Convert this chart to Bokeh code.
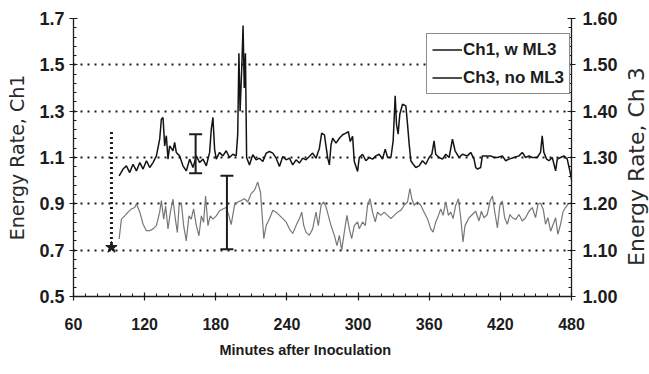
import math
from bokeh.plotting import figure
from bokeh.layouts import row
from bokeh.models import (Range1d, LinearAxis, FixedTicker, PrintfTickFormatter,
                          Legend, LegendItem, Title)
from bokeh.core.properties import value
from bokeh.embed import file_html
from bokeh.resources import INLINE

# ---------------- data ----------------
x_ticks = [60, 120, 180, 240, 300, 360, 420, 480]
y_left_ticks = [0.5, 0.7, 0.9, 1.1, 1.3, 1.5, 1.7]
y_right_ticks = [1.0, 1.1, 1.2, 1.3, 1.4, 1.5, 1.6]

ch1_min = [98.5, 101.8, 104.6, 107.4, 110.2, 113.1, 115.9, 118.7, 121.5, 124.3,
           127.1, 129.9, 132.7, 134.1, 135.5, 136.9, 138.3, 139.7, 141.1, 143.9,
           145.3, 146.7, 149.5, 152.3, 155.1, 158.0, 160.8, 163.6, 166.4, 169.2,
           172.0, 174.8, 176.2, 177.6, 179.0, 180.4, 183.2, 186.0, 188.8, 191.6,
           194.4, 197.2, 198.5, 199.5, 200.5, 202.0, 203.0, 204.0, 205.0, 206.0,
           208.4, 211.2, 214.0, 216.8, 219.7, 222.5, 225.3, 228.1, 230.9, 233.7,
           236.5, 239.3, 242.1, 244.9, 247.7, 250.5, 253.3, 256.1, 258.9, 261.7,
           264.5, 267.4, 269.3, 271.6, 274.4, 275.8, 277.2, 278.6, 281.4, 284.2,
           287.0, 289.8, 291.8, 293.4, 295.4, 296.8, 299.6, 301.0, 303.8, 306.6,
           309.4, 312.2, 315.0, 317.8, 320.6, 322.9, 324.9, 327.7, 329.6, 331.3,
           332.4, 333.8, 335.2, 337.5, 340.3, 341.7, 343.1, 344.5, 346.5, 348.7,
           351.5, 354.3, 357.1, 359.9, 362.2, 364.1, 365.5, 368.3, 371.2, 374.0,
           376.8, 379.6, 381.8, 385.2, 388.0, 392.2, 395.0, 397.8, 399.2, 400.6,
           403.4, 404.8, 407.6, 411.9, 414.7, 417.5, 421.7, 424.5, 427.3, 431.5,
           435.7, 438.5, 441.3, 444.1, 446.9, 451.1, 453.9, 455.3, 456.7, 459.0,
           461.0, 463.8, 466.6, 468.0, 470.8, 473.6, 476.4, 478.6, 480.0]
ch1_val = [1.021, 1.050, 1.064, 1.035, 1.071, 1.042, 1.078, 1.050, 1.086, 1.057,
           1.078, 1.107, 1.179, 1.265, 1.273, 1.150, 1.194, 1.093, 1.150, 1.129,
           1.165, 1.122, 1.107, 1.064, 1.042, 1.093, 1.057, 1.107, 1.078, 1.093,
           1.064, 1.122, 1.222, 1.273, 1.136, 1.093, 1.122, 1.107, 1.129, 1.100,
           1.114, 1.107, 1.200, 1.550, 1.300, 1.500, 1.670, 1.400, 1.550, 1.100,
           1.068, 1.112, 1.090, 1.097, 1.083, 1.119, 1.126, 1.119, 1.097, 1.061,
           1.104, 1.090, 1.097, 1.068, 1.090, 1.076, 1.097, 1.090, 1.104, 1.119,
           1.097, 1.140, 1.205, 1.198, 1.097, 1.068, 1.155, 1.183, 1.162, 1.183,
           1.198, 1.205, 1.212, 1.169, 1.191, 1.083, 1.040, 1.100, 1.114, 1.086,
           1.100, 1.093, 1.107, 1.114, 1.093, 1.136, 1.100, 1.100, 1.172, 1.366,
           1.244, 1.201, 1.287, 1.330, 1.323, 1.244, 1.158, 1.086, 1.071, 1.057,
           1.064, 1.086, 1.071, 1.100, 1.114, 1.172, 1.114, 1.100, 1.093, 1.114,
           1.100, 1.179, 1.129, 1.100, 1.114, 1.107, 1.122, 1.093, 1.057, 1.050,
           1.057, 1.107, 1.107, 1.107, 1.100, 1.100, 1.107, 1.086, 1.093, 1.100,
           1.107, 1.122, 1.100, 1.107, 1.100, 1.100, 1.122, 1.194, 1.122, 1.093,
           1.086, 1.100, 1.042, 1.093, 1.100, 1.107, 1.093, 1.042, 1.006]

ch3_min = [98.5, 100.4, 103.2, 106.0, 108.8, 111.6, 113.1, 115.9, 118.7, 121.5,
           124.3, 127.1, 129.9, 132.7, 134.1, 136.1, 137.7, 139.7, 141.7, 143.9,
           145.9, 147.6, 149.0, 150.9, 152.9, 155.1, 157.4, 159.3, 161.3, 163.6,
           165.8, 167.8, 169.7, 171.4, 173.4, 175.3, 177.6, 180.4, 183.2, 186.0,
           188.8, 191.0, 193.0, 195.8, 198.6, 201.4, 204.2, 207.0, 209.8, 212.6,
           215.4, 217.7, 219.1, 220.5, 222.5, 225.3, 228.1, 230.9, 233.7, 236.5,
           239.3, 242.1, 244.9, 247.7, 250.5, 252.5, 254.2, 256.1, 258.9, 261.7,
           264.5, 266.5, 268.8, 271.0, 273.0, 274.9, 277.2, 280.0, 282.2, 284.2,
           286.2, 288.4, 290.6, 292.6, 294.6, 296.8, 299.6, 301.0, 303.8, 306.1,
           308.0, 310.0, 312.2, 314.5, 316.4, 319.2, 322.0, 324.9, 327.7, 330.5,
           333.3, 336.1, 338.9, 341.7, 343.7, 345.3, 347.3, 350.1, 352.9, 355.7,
           358.5, 361.3, 363.3, 365.5, 367.8, 369.7, 371.7, 374.0, 376.2, 378.2,
           380.1, 382.4, 384.6, 386.6, 388.5, 390.2, 393.6, 396.4, 399.2, 402.0,
           404.0, 406.2, 409.0, 411.3, 413.3, 415.2, 417.5, 419.7, 421.7, 423.6,
           425.9, 428.1, 430.1, 432.9, 435.7, 438.5, 441.3, 444.1, 446.9, 449.7,
           451.7, 453.9, 456.2, 458.1, 460.1, 462.4, 464.6, 466.6, 468.5, 470.8,
           473.0, 475.0, 476.9, 479.2]
ch3_val = [1.124, 1.167, 1.174, 1.182, 1.189, 1.192, 1.200, 1.182, 1.156, 1.142,
           1.142, 1.146, 1.153, 1.182, 1.207, 1.167, 1.195, 1.146, 1.182, 1.210,
           1.167, 1.138, 1.195, 1.203, 1.153, 1.120, 1.174, 1.167, 1.189, 1.153,
           1.131, 1.174, 1.160, 1.217, 1.153, 1.174, 1.167, 1.174, 1.185, 1.189,
           1.192, 1.175, 1.155, 1.197, 1.204, 1.207, 1.211, 1.204, 1.222, 1.229,
           1.247, 1.225, 1.175, 1.125, 1.153, 1.168, 1.186, 1.182, 1.175, 1.168,
           1.161, 1.146, 1.136, 1.153, 1.168, 1.182, 1.153, 1.139, 1.132, 1.146,
           1.182, 1.153, 1.197, 1.204, 1.193, 1.175, 1.153, 1.132, 1.110, 1.132,
           1.100, 1.139, 1.175, 1.146, 1.125, 1.153, 1.161, 1.146, 1.161, 1.153,
           1.197, 1.211, 1.182, 1.161, 1.182, 1.175, 1.182, 1.175, 1.168, 1.175,
           1.182, 1.186, 1.197, 1.204, 1.233, 1.211, 1.197, 1.204, 1.197, 1.182,
           1.168, 1.146, 1.139, 1.161, 1.175, 1.189, 1.175, 1.204, 1.175, 1.182,
           1.168, 1.197, 1.211, 1.170, 1.118, 1.153, 1.170, 1.177, 1.184, 1.163,
           1.184, 1.170, 1.177, 1.206, 1.217, 1.184, 1.148, 1.199, 1.206, 1.170,
           1.156, 1.177, 1.170, 1.166, 1.177, 1.163, 1.170, 1.184, 1.192, 1.170,
           1.199, 1.202, 1.188, 1.156, 1.170, 1.141, 1.156, 1.170, 1.134, 1.156,
           1.184, 1.192, 1.199, 1.202]

# error bars (left axis units)
bar_x = [163.0, 189.4]
bar_lo = [1.032, 0.704]
bar_hi = [1.200, 1.021]

# dotted arrow at start of record
arrow_x = [92.0, 92.0]
arrow_y = [1.21, 0.73]
arrow_tip_y = [0.712]

legend_labels = ["Ch1, w ML3", "Ch3, no ML3"]
right_title = ["Energy Rate, Ch 3"]

# ---------------- figure ----------------
INK = "#1c1c1c"
p = figure(width=620, height=368, output_backend="svg", toolbar_location=None,
           x_range=Range1d(60, 480), y_range=Range1d(0.5, 1.7),
           min_border_left=73, min_border_right=48, min_border_top=18,
           min_border_bottom=72)
p.extra_y_ranges = {"ch3": Range1d(1.0, 1.6)}
p.outline_line_color = None
p.background_fill_color = "white"
p.border_fill_color = "white"

minor_x = list(range(60, 481, 10))
minor_yl = [round(0.5 + 0.04 * i, 2) for i in range(31)]
minor_yr = [round(1.0 + 0.02 * i, 2) for i in range(31)]


def style_axis(ax, size):
    ax.axis_line_color = INK
    ax.axis_line_width = 1.3
    ax.major_tick_line_color = INK
    ax.minor_tick_line_color = INK
    ax.major_tick_line_width = 1.2
    ax.minor_tick_line_width = 1.0
    ax.major_tick_in = 4
    ax.major_tick_out = 4
    ax.minor_tick_in = 3
    ax.minor_tick_out = 0
    ax.major_label_text_font = "Liberation Sans"
    ax.major_label_text_font_style = "bold"
    ax.major_label_text_font_size = size
    ax.major_label_text_color = INK
    ax.axis_label_text_font = "DejaVu Sans"
    ax.axis_label_text_font_style = "normal"
    ax.axis_label_text_color = "#2a2a2a"


p.xaxis.ticker = FixedTicker(ticks=x_ticks, minor_ticks=minor_x)
style_axis(p.xaxis[0], "16px")
p.xaxis.major_label_standoff = 17

p.yaxis.ticker = FixedTicker(ticks=y_left_ticks, minor_ticks=minor_yl)
p.yaxis.formatter = PrintfTickFormatter(format="%.1f")
style_axis(p.yaxis[0], "18px")
p.yaxis.major_label_standoff = 5
p.yaxis.axis_label = "Energy Rate, Ch1"
p.yaxis.axis_label_text_font_size = "19px"
p.yaxis.axis_label_standoff = 8

rax = LinearAxis(y_range_name="ch3",
                 ticker=FixedTicker(ticks=y_right_ticks, minor_ticks=minor_yr),
                 formatter=PrintfTickFormatter(format="%.2f"))
style_axis(rax, "18px")
rax.major_label_standoff = 7
p.add_layout(rax, "right")

p.add_layout(Title(text="Minutes after Inoculation", align="left", offset=146,
                   text_font="Liberation Sans", text_font_style="bold",
                   text_font_size="14.5px", text_color=INK, standoff=15), "below")

p.xgrid.visible = False
p.ygrid.ticker = FixedTicker(ticks=[0.7, 0.9, 1.1, 1.3, 1.5, 1.7])
p.ygrid.grid_line_color = INK
p.ygrid.grid_line_width = 1.8
p.ygrid.grid_line_dash = "2 5"

# series
r3 = p.line(ch3_min, ch3_val, y_range_name="ch3", line_color="#777777",
            line_width=1.2)
r1 = p.line(ch1_min, ch1_val, line_color="#141414", line_width=1.5)

# annotations
p.line(arrow_x, arrow_y, line_color=INK, line_width=3, line_dash="2 3")
p.scatter(arrow_x[:1], arrow_tip_y, marker="star", size=12, color=INK)
p.segment(x0=bar_x, y0=bar_lo, x1=bar_x, y1=bar_hi, line_color=INK, line_width=2)
p.scatter(bar_x + bar_x, bar_lo + bar_hi, marker="dash", size=13,
          line_color=INK, line_width=2)

# legend (both samples black); second sample uses an off-range dummy line
d3 = p.line([0, 1], [0, 0], line_color="#141414", line_width=1.5)
legend = Legend(items=[LegendItem(label=legend_labels[0], renderers=[r1]),
                       LegendItem(label=legend_labels[1], renderers=[d3])],
                location=(353, 202))
legend.border_line_color = INK
legend.border_line_width = 1.2
legend.background_fill_color = "white"
legend.background_fill_alpha = 1.0
legend.label_text_font = "Liberation Sans"
legend.label_text_font_style = "bold"
legend.label_text_font_size = "17px"
legend.label_text_color = INK
legend.glyph_width = 30
legend.glyph_height = 21
legend.label_height = 21
legend.label_standoff = 1
legend.padding = 5
legend.spacing = 7
legend.margin = 0
p.add_layout(legend)

# narrow side panel holding the right-hand axis title (reads bottom to top)
p2 = figure(width=30, height=368, output_backend="svg", toolbar_location=None,
            x_range=Range1d(0, 30), y_range=Range1d(0, 368),
            x_axis_location=None, y_axis_location=None,
            min_border_left=0, min_border_right=0, min_border_top=0,
            min_border_bottom=0)
p2.outline_line_color = None
p2.grid.visible = False
p2.background_fill_color = "white"
p2.border_fill_color = "white"
p2.text(x=[16], y=[172], text=right_title, angle=math.pi / 2,
        text_align="center", text_baseline="middle",
        text_font=value("DejaVu Sans"), text_font_size="22px",
        text_color="#2a2a2a")

layout = row(p, p2, spacing=0)
open("out.html", "w").write(file_html(layout, INLINE))
